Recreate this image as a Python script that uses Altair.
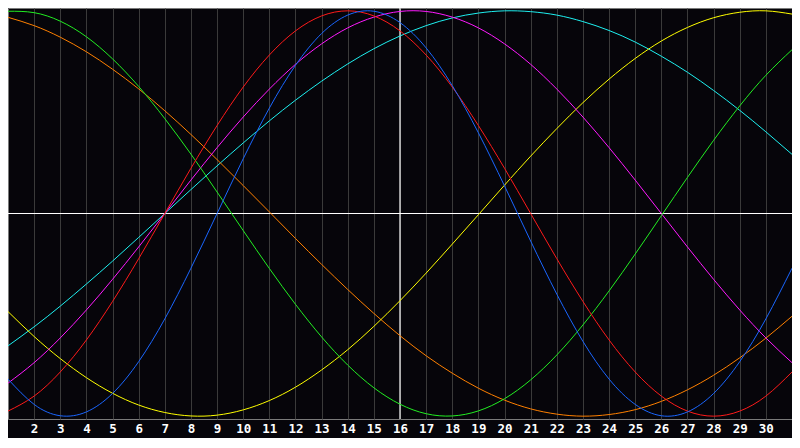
import altair as alt
import pandas as pd

days = list(range(1, 32))
tick_days = list(range(2, 31))

physical = [-81.7, -94.2, -99.8, -97.9, -88.8, -73.1, -52.0, -27.0, 0.0, 27.0,
            52.0, 73.1, 88.8, 97.9, 99.8, 94.2, 81.7, 63.1, 39.8, 13.6,
            -13.6, -39.8, -63.1, -81.7, -94.2, -99.8, -97.9, -88.8, -73.1, -52.0, -27.0]
emotional = [-97.5, -90.1, -78.2, -62.4, -43.4, -22.3, 0.0, 22.3, 43.4, 62.4,
             78.2, 90.1, 97.5, 100.0, 97.5, 90.1, 78.2, 62.4, 43.4, 22.3,
             0.0, -22.3, -43.4, -62.4, -78.2, -90.1, -97.5, -100.0, -97.5, -90.1, -78.2]
intellectual = [99.8, 99.1, 94.9, 87.2, 76.3, 62.7, 46.8, 29.3, 10.6, -8.4,
                -27.1, -44.8, -60.9, -74.8, -86.0, -94.1, -98.8, -99.9, -97.4, -91.4,
                -82.1, -69.8, -55.0, -38.2, -20.0, -1.1, 17.8, 36.1, 53.1, 68.2, 80.8]
intuitive = [-83.7, -73.6, -61.4, -47.6, -32.5, -16.5, 0.0, 16.5, 32.5, 47.6,
             61.4, 73.6, 83.7, 91.6, 96.9, 99.7, 99.7, 96.9, 91.6, 83.7,
             73.6, 61.4, 47.6, 32.5, 16.5, 0.0, -16.5, -32.5, -47.6, -61.4, -73.6]
aesthetic = [-48.4, -60.7, -71.6, -81.0, -88.7, -94.5, -98.2, -99.9, -99.5, -96.9,
             -92.3, -85.7, -77.2, -67.2, -55.7, -43.0, -29.4, -15.1, -0.6, 14.0,
             28.3, 41.9, 54.7, 66.3, 76.5, 85.1, 91.8, 96.6, 99.3, 100.0, 98.4]
awareness = [96.8, 92.7, 87.0, 79.8, 71.2, 61.5, 50.7, 39.0, 26.6, 13.8,
             0.8, -12.3, -25.1, -37.5, -49.3, -60.3, -70.2, -78.8, -86.2, -92.1,
             -96.4, -99.0, -100.0, -99.2, -96.8, -92.7, -87.0, -79.8, -71.2, -61.5, -50.7]
spiritual = [-65.3, -55.9, -45.7, -34.8, -23.5, -11.8, 0.0, 11.8, 23.5, 34.8,
             45.7, 55.9, 65.3, 73.8, 81.3, 87.6, 92.7, 96.5, 98.9, 100.0,
             99.6, 97.9, 94.7, 90.3, 84.6, 77.6, 69.7, 60.7, 50.9, 40.3, 29.2]

series_names = ["Spiritual", "Awareness", "Aesthetic", "Intuitive",
                "Intellectual", "Emotional", "Physical"]
series_colors = ["#1ef0f0", "#ff8000", "#ffff00", "#ff1aff",
                 "#22ee22", "#ff1a1a", "#1a66ff"]
series_values = [spiritual, awareness, aesthetic, intuitive,
                 intellectual, emotional, physical]

rows = []
for name, vals in zip(series_names, series_values):
    for d, v in zip(days, vals):
        rows.append({"day": d, "value": v, "series": name})
df = pd.DataFrame(rows)

xscale = alt.Scale(domain=[1, 31], nice=False, zero=False)
yscale = alt.Scale(domain=[-101.4, 101.4], nice=False, zero=False)

xaxis = alt.Axis(values=tick_days, title=None, grid=True, gridColor="#3a3a3a",
                 gridWidth=1, domain=False, ticks=False, labelColor="#ffffff",
                 labelFont="DejaVu Sans Mono", labelFontWeight="bold",
                 labelFontSize=12.5, labelPadding=3, labelAngle=0,
                 labelAlign="center", labelOverlap=False)

base_x = alt.X("day:Q", scale=xscale, axis=xaxis)

vline = alt.Chart(pd.DataFrame({"day": [16]})).mark_rule(
    color="#ffffff", strokeWidth=1.2).encode(x=base_x)

hline = alt.Chart(pd.DataFrame({"value": [0]})).mark_rule(
    color="#ffffff", strokeWidth=1.2).encode(
    y=alt.Y("value:Q", scale=yscale, axis=None))

lines = alt.Chart(df).mark_line(strokeWidth=1, interpolate="natural", clip=True).encode(
    x=alt.X("day:Q", scale=xscale, axis=xaxis),
    y=alt.Y("value:Q", scale=yscale, axis=None),
    color=alt.Color("series:N", scale=alt.Scale(domain=series_names, range=series_colors),
                    legend=None, sort=series_names),
    detail="series:N",
)

chart = alt.layer(vline, hline, lines).properties(
    width=784, height=411,
    background="#06050a",
    padding={"left": 0, "top": 0, "right": 0, "bottom": 19},
    autosize=alt.AutoSizeParams(type="none"),
).configure_view(stroke="#7a7a7a", strokeWidth=1, fill="#06050a")

chart.save("out.html", embed_options={"renderer": "svg", "actions": False})
